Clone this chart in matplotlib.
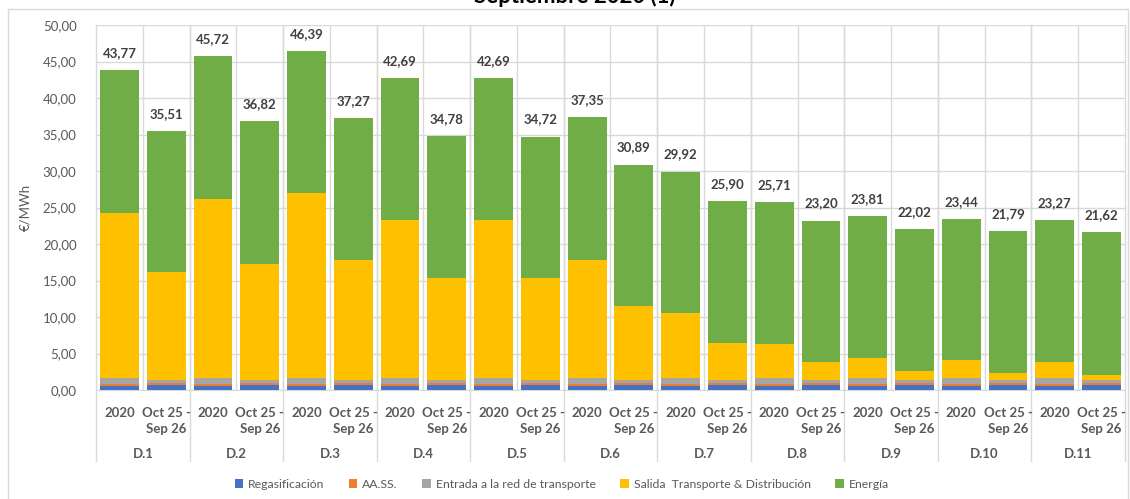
import numpy as np
import matplotlib
matplotlib.use('Agg')
import matplotlib.pyplot as plt
from matplotlib.patches import Rectangle
from matplotlib.lines import Line2D

# data (EUR/MWh)
groups = ['D.1', 'D.2', 'D.3', 'D.4', 'D.5', 'D.6', 'D.7', 'D.8', 'D.9', 'D.10', 'D.11']
periods = ['2020', 'Oct 25 -\nSep 26']

regas = [0.55, 0.68] * 11
aass = [0.27, 0.23] * 11
entrada = [0.82, 0.46] * 11
salida = [22.66, 14.73, 24.56, 15.93, 25.36, 16.43, 21.66, 13.93, 21.66, 13.93,
          16.16, 10.13, 8.86, 5.03, 4.66, 2.43, 2.76, 1.23, 2.46, 0.93, 2.26, 0.73]
energia = [19.47, 19.41, 19.52, 19.52, 19.39, 19.47, 19.39, 19.48, 19.39, 19.42,
           19.55, 19.39, 19.42, 19.50, 19.41, 19.40, 19.41, 19.42, 19.34, 19.49, 19.37, 19.52]

series = [('Regasificación', regas, '#4472C4'),
          ('AA.SS.', aass, '#ED7D31'),
          ('Entrada a la red de transporte', entrada, '#A5A5A5'),
          ('Salida  Transporte & Distribución', salida, '#FFC000'),
          ('Energía', energia, '#70AD47')]

plt.rcParams['font.family'] = ['Lato', 'DejaVu Sans']
txt = '#595959'
grid = '#d9d9d9'

fig = plt.figure(figsize=(11.3, 4.99), dpi=100)
ax = fig.add_axes([0.085, 0.2184, 0.9105, 0.7315])

x = np.arange(len(salida))
bottom = np.zeros(len(x))
for name, vals, col in series:
    ax.bar(x, vals, 0.83, bottom=bottom, color=col, label=name, zorder=3)
    bottom += np.array(vals)

for xi, tot in zip(x, bottom):
    ax.annotate('{:.2f}'.format(tot).replace('.', ','), (xi, tot), xytext=(0, 8),
                textcoords='offset points', ha='center', va='bottom',
                fontsize=9.5, fontweight='bold', color='#404040')

ax.set_xlim(-0.5, len(x) - 0.5)
ax.set_ylim(0, 50)
yt = np.arange(0, 51, 5)
ax.set_yticks(yt)
ax.set_yticklabels(['{:.2f}'.format(v).replace('.', ',') for v in yt], color=txt, fontsize=9.5)
ax.set_ylabel('€/MWh', color=txt, fontsize=9.5, labelpad=8)
ax.tick_params(axis='y', length=0, pad=14)
ax.grid(axis='y', color=grid, lw=1, zorder=0)

# vertical gridlines between every bar
for b in np.arange(0.5, len(x) - 1, 1):
    ax.axvline(b, color=grid, lw=1, zorder=0)

ax.set_xticks(x)
ax.set_xticklabels(periods * len(groups), fontsize=9.5, fontweight='bold',
                   color=txt, linespacing=1.4, va='top')
ax.tick_params(axis='x', length=0, pad=12)

for s in ['top', 'right']:
    ax.spines[s].set_visible(False)
ax.spines['bottom'].set_color(grid)
ax.spines['left'].set_visible(False)

# group labels and separators below the axis
for i, g in enumerate(groups):
    ax.text(2 * i + 0.5, -0.175, g, transform=ax.get_xaxis_transform(),
            ha='center', va='center', fontsize=9.5, fontweight='bold', color=txt)
for b in np.arange(-0.5, len(x) + 0.5, 2):
    ax.add_line(Line2D([b, b], [-0.195, 1], transform=ax.get_xaxis_transform(),
                       color=grid, lw=1, clip_on=False, zorder=0))

ax.legend(loc='center', bbox_to_anchor=(0.497, 0.03), bbox_transform=fig.transFigure,
          ncol=5, frameon=False, fontsize=8.8, handlelength=0.7, handleheight=0.7,
          handletextpad=0.4, columnspacing=2.0, labelcolor=txt)

fig.patches.append(Rectangle((8 / 1130, -0.01), 1120 / 1130, 1 - 9 / 499 + 0.01,
                             transform=fig.transFigure, fill=False, ec=grid, lw=1))
fig.text(0.509, 1 - 3 / 499, 'Septiembre 2020 (1)', ha='center', va='baseline',
         fontsize=16, fontweight='bold', color='black')

fig.savefig('out.png', dpi=100)
